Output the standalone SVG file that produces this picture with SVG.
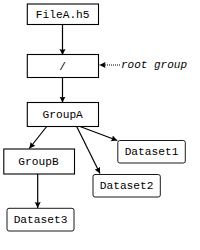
<svg xmlns="http://www.w3.org/2000/svg" width="200" height="250" viewBox="0 0 200 250">
<defs>
<style>
.box{fill:#fff;stroke:#000;stroke-width:1.1}
.ds{fill:#fff;stroke:#000;stroke-width:0.9}
.t{font-family:"Liberation Mono","DejaVu Sans Mono",monospace;font-size:11.2px;text-anchor:middle;fill:#000}
.it{font-family:"Liberation Mono","DejaVu Sans Mono",monospace;font-size:11px;font-style:italic;fill:#000}
.c{stroke:#000;stroke-width:1.2;fill:none}
.dot{stroke:#000;stroke-width:1;stroke-dasharray:1 1;fill:none}
</style>
<marker id="ah" markerUnits="userSpaceOnUse" markerWidth="8" markerHeight="8" refX="6" refY="3" orient="auto" viewBox="0 0 8 6">
<path d="M0,0 L6,3 L0,6 Q1.5,3 0,0 Z" fill="#000"/>
</marker>
</defs>
<g id="connectors">
<line class="c" x1="62.5" y1="24.5" x2="62.5" y2="55" marker-end="url(#ah)"/>
<line class="c" x1="62.5" y1="77.5" x2="62.5" y2="102.5" marker-end="url(#ah)"/>
<line class="dot" x1="120" y1="65" x2="99.5" y2="65" marker-end="url(#ah)"/>
<line class="c" x1="46.7" y1="126.5" x2="29.3" y2="148.5" marker-end="url(#ah)"/>
<line class="c" x1="76.7" y1="126.5" x2="100" y2="173.5" marker-end="url(#ah)"/>
<line class="c" x1="80" y1="126.5" x2="117.3" y2="140.5" marker-end="url(#ah)"/>
<line class="c" x1="37.7" y1="174" x2="37.7" y2="208" marker-end="url(#ah)"/>
</g>
<g id="fileA"><rect class="box" x="27.3" y="4" width="71.2" height="20.5"/><text class="t" x="62.7" y="18.4">FileA.h5</text></g>
<g id="root"><rect class="box" x="27.3" y="54.5" width="71.2" height="23"/><text class="t" x="62.7" y="69.5">/</text></g>
<g id="rootLabel"><text class="it" x="121" y="67.6">root group</text></g>
<g id="groupA"><rect class="box" x="27.3" y="102.5" width="71.2" height="24"/><text class="t" x="62.7" y="117.8">GroupA</text></g>
<g id="groupB"><rect class="box" x="3.8" y="149" width="70.7" height="25"/><text class="t" x="38.5" y="164.6">GroupB</text></g>
<g id="dataset1"><rect class="ds" x="117.8" y="140.5" width="67.5" height="22.5" rx="2"/><text class="t" x="151.5" y="154.6">Dataset1</text></g>
<g id="dataset2"><rect class="ds" x="93" y="174.5" width="67.3" height="22.5" rx="2"/><text class="t" x="126.6" y="189">Dataset2</text></g>
<g id="dataset3"><rect class="ds" x="7" y="208.3" width="67" height="22.7" rx="2"/><text class="t" x="40.5" y="223.3">Dataset3</text></g>
</svg>
